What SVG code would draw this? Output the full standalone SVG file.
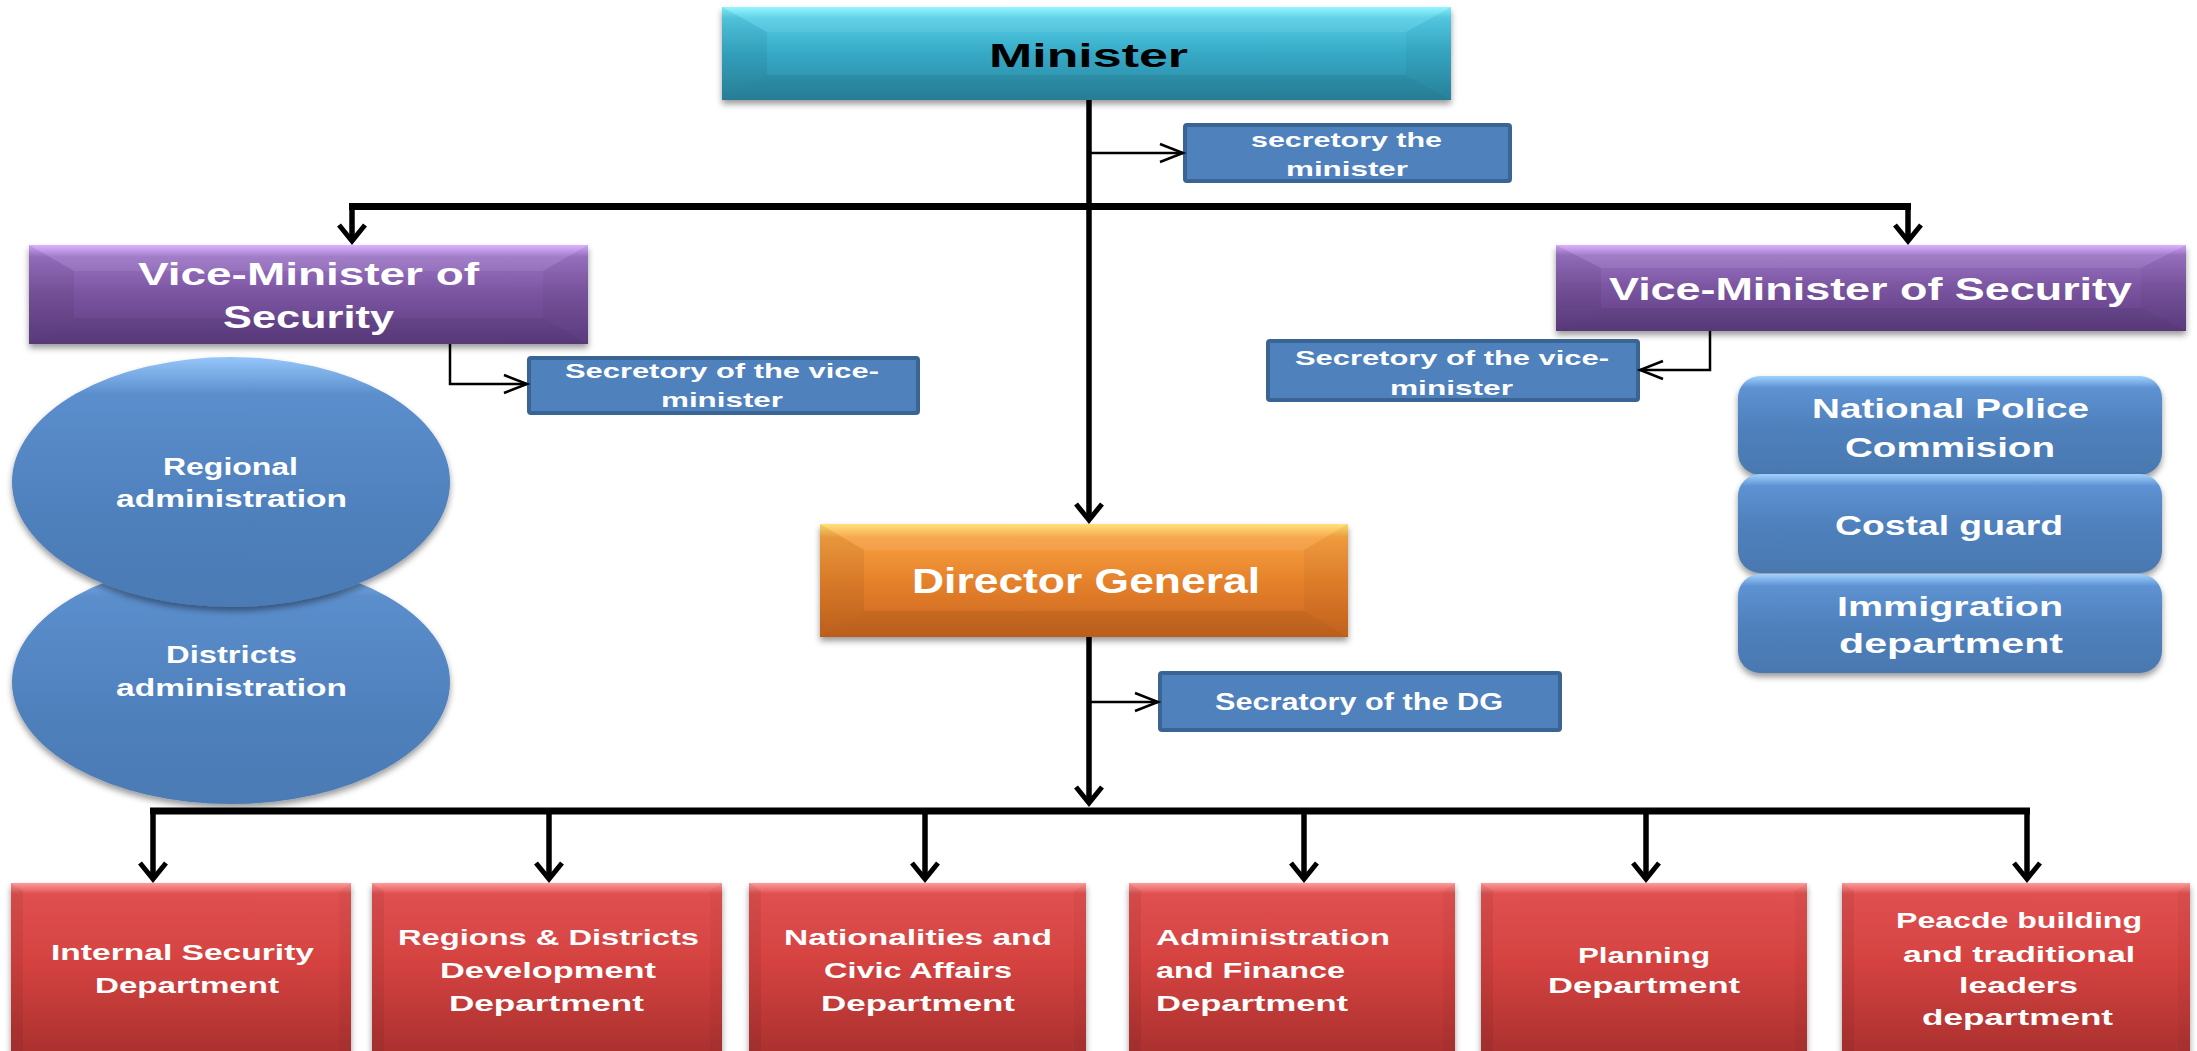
<svg xmlns="http://www.w3.org/2000/svg" width="2197" height="1051" viewBox="0 0 2197 1051">
<defs>
<style>
.t{font-family:"Liberation Sans",Arial,sans-serif;font-weight:bold;fill:#fff}
.blk{fill:#000}
.bt{fill:#fff;opacity:.08}
.bl{fill:#000;opacity:.06}
.br{fill:#000;opacity:.035}
.bb{fill:#000;opacity:.07}
.sec{fill:#4f81bd;stroke:#3a6494;stroke-width:4}
.thick{fill:none;stroke:#000;stroke-width:5.5}
.thin{fill:none;stroke:#000;stroke-width:2.5}
.bar{fill:none;stroke:#000;stroke-width:7}
</style>
<filter id="sh" x="-10%" y="-20%" width="120%" height="150%"><feDropShadow dx="0" dy="4" stdDeviation="3" flood-color="#000" flood-opacity="0.4"/></filter>
<linearGradient id="gTeal" x1="0" y1="0" x2="0" y2="1"><stop offset="0" stop-color="#8af6ff"/><stop offset=".12" stop-color="#55cde6"/><stop offset=".5" stop-color="#36a9c6"/><stop offset="1" stop-color="#2a869f"/></linearGradient>
<linearGradient id="gPur" x1="0" y1="0" x2="0" y2="1"><stop offset="0" stop-color="#d9acff"/><stop offset=".12" stop-color="#9a72c4"/><stop offset=".5" stop-color="#7a549f"/><stop offset="1" stop-color="#5e3d82"/></linearGradient>
<linearGradient id="gOr" x1="0" y1="0" x2="0" y2="1"><stop offset="0" stop-color="#ffe070"/><stop offset=".12" stop-color="#f7a040"/><stop offset=".5" stop-color="#e6822c"/><stop offset="1" stop-color="#c8651e"/></linearGradient>
<linearGradient id="gRed" x1="0" y1="0" x2="0" y2="1"><stop offset="0" stop-color="#ff9a9a"/><stop offset=".06" stop-color="#e05050"/><stop offset=".45" stop-color="#d44240"/><stop offset="1" stop-color="#a62f2d"/></linearGradient>
<linearGradient id="gBlue" x1="0" y1="0" x2="0" y2="1"><stop offset="0" stop-color="#a0d2ff"/><stop offset=".12" stop-color="#5e92d2"/><stop offset=".5" stop-color="#4f81bd"/><stop offset="1" stop-color="#4a78b0"/></linearGradient>
<linearGradient id="gEl" x1="0" y1="0" x2="0" y2="1"><stop offset="0" stop-color="#95c6fb"/><stop offset=".15" stop-color="#5b8ecc"/><stop offset=".6" stop-color="#4f81bd"/><stop offset="1" stop-color="#4b7ab4"/></linearGradient>
<marker id="ah" markerUnits="userSpaceOnUse" viewBox="-20 -16 24 32" refX="0" refY="0" markerWidth="24" markerHeight="32" orient="auto"><path d="M-16,-13 L0,0 L-16,13" fill="none" stroke="#000" stroke-width="5"/></marker>
<marker id="ahs" markerUnits="userSpaceOnUse" viewBox="-26 -12 30 24" refX="0" refY="0" markerWidth="30" markerHeight="24" orient="auto"><path d="M-23,-9 L0,0 L-23,9" fill="none" stroke="#000" stroke-width="2.5"/></marker>
</defs>
<rect width="2197" height="1051" fill="#fff"/>

<g id="minister">
<rect x="722" y="7" width="729" height="93" fill="url(#gTeal)" filter="url(#sh)"/>
<polygon class="bt" points="722,7 1451,7 1406,32 767,32"/>
<polygon class="bl" points="722,7 767,32 767,75 722,100"/>
<polygon class="br" points="1451,7 1451,100 1406,75 1406,32"/>
<polygon class="bb" points="722,100 767,75 1406,75 1451,100"/>
<text class="t blk" x="989" y="67" font-size="33" textLength="199" lengthAdjust="spacingAndGlyphs">Minister</text>
</g>

<g id="sec-minister">
<rect class="sec" x="1185" y="125" width="325" height="56" rx="2"/>
<text class="t" x="1251" y="147" font-size="21" textLength="191" lengthAdjust="spacingAndGlyphs">secretory the</text>
<text class="t" x="1286" y="176" font-size="21" textLength="122" lengthAdjust="spacingAndGlyphs">minister</text>
</g>

<g id="vice-left">
<rect x="29" y="245" width="559" height="99" fill="url(#gPur)" filter="url(#sh)"/>
<polygon class="bt" points="29,245 588,245 543,271 74,271"/>
<polygon class="bl" points="29,245 74,271 74,318 29,344"/>
<polygon class="br" points="588,245 588,344 543,318 543,271"/>
<polygon class="bb" points="29,344 74,318 543,318 588,344"/>
<text class="t" x="138" y="285" font-size="32" textLength="341" lengthAdjust="spacingAndGlyphs">Vice-Minister of</text>
<text class="t" x="223" y="328" font-size="32" textLength="171" lengthAdjust="spacingAndGlyphs">Security</text>
</g>

<g id="vice-right">
<rect x="1556" y="245" width="630" height="86" fill="url(#gPur)" filter="url(#sh)"/>
<polygon class="bt" points="1556,245 2186,245 2141,268 1601,268"/>
<polygon class="bl" points="1556,245 1601,268 1601,308 1556,331"/>
<polygon class="br" points="2186,245 2186,331 2141,308 2141,268"/>
<polygon class="bb" points="1556,331 1601,308 2141,308 2186,331"/>
<text class="t" x="1609" y="300" font-size="31" textLength="523" lengthAdjust="spacingAndGlyphs">Vice-Minister of Security</text>
</g>

<g id="sec-vice-left">
<rect class="sec" x="529" y="358" width="389" height="55" rx="2"/>
<text class="t" x="565" y="378" font-size="21" textLength="314" lengthAdjust="spacingAndGlyphs">Secretory of the vice-</text>
<text class="t" x="661" y="407" font-size="21" textLength="122" lengthAdjust="spacingAndGlyphs">minister</text>
</g>

<g id="sec-vice-right">
<rect class="sec" x="1268" y="341" width="370" height="59" rx="2"/>
<text class="t" x="1295" y="365" font-size="21" textLength="314" lengthAdjust="spacingAndGlyphs">Secretory of the vice-</text>
<text class="t" x="1390" y="395" font-size="21" textLength="123" lengthAdjust="spacingAndGlyphs">minister</text>
</g>

<g id="districts-admin">
<ellipse cx="231" cy="682" rx="219" ry="122" fill="url(#gEl)" filter="url(#sh)"/>
<text class="t" x="166" y="663" font-size="23" textLength="131" lengthAdjust="spacingAndGlyphs">Districts</text>
<text class="t" x="116" y="696" font-size="23" textLength="231" lengthAdjust="spacingAndGlyphs">administration</text>
</g>

<g id="regional-admin">
<ellipse cx="231" cy="482" rx="219" ry="125" fill="url(#gEl)" filter="url(#sh)"/>
<text class="t" x="163" y="475" font-size="23" textLength="135" lengthAdjust="spacingAndGlyphs">Regional</text>
<text class="t" x="116" y="507" font-size="23" textLength="231" lengthAdjust="spacingAndGlyphs">administration</text>
</g>

<g id="police-commission">
<rect x="1738" y="376" width="424" height="99" rx="22" fill="url(#gBlue)" filter="url(#sh)"/>
<text class="t" x="1812" y="418" font-size="28" textLength="277" lengthAdjust="spacingAndGlyphs">National Police</text>
<text class="t" x="1845" y="457" font-size="28" textLength="210" lengthAdjust="spacingAndGlyphs">Commision</text>
</g>
<g id="coastal-guard">
<rect x="1738" y="474" width="424" height="99" rx="22" fill="url(#gBlue)" filter="url(#sh)"/>
<text class="t" x="1835" y="535" font-size="28" textLength="228" lengthAdjust="spacingAndGlyphs">Costal guard</text>
</g>
<g id="immigration">
<rect x="1738" y="574" width="424" height="99" rx="22" fill="url(#gBlue)" filter="url(#sh)"/>
<text class="t" x="1837" y="616" font-size="28" textLength="226" lengthAdjust="spacingAndGlyphs">Immigration</text>
<text class="t" x="1839" y="653" font-size="28" textLength="224" lengthAdjust="spacingAndGlyphs">department</text>
</g>

<g id="director-general">
<rect x="820" y="524" width="528" height="113" fill="url(#gOr)" filter="url(#sh)"/>
<polygon class="bt" points="820,524 1348,524 1304,550 864,550"/>
<polygon class="bl" points="820,524 864,550 864,611 820,637"/>
<polygon class="br" points="1348,524 1348,637 1304,611 1304,550"/>
<polygon class="bb" points="820,637 864,611 1304,611 1348,637"/>
<text class="t" x="912" y="593" font-size="35" textLength="348" lengthAdjust="spacingAndGlyphs">Director General</text>
</g>

<g id="sec-dg">
<rect class="sec" x="1160" y="673" width="400" height="57" rx="2"/>
<text class="t" x="1215" y="710" font-size="23" textLength="288" lengthAdjust="spacingAndGlyphs">Secratory of the DG</text>
</g>

<g id="dept-internal">
<rect x="11" y="883" width="340" height="180" fill="url(#gRed)" filter="url(#sh)"/>
<polygon class="bl" points="11,883 23,891 23,1063 11,1063"/>
<polygon class="br" points="351,883 351,1063 339,1063 339,891"/>
<text class="t" x="51" y="960" font-size="22" textLength="263" lengthAdjust="spacingAndGlyphs">Internal Security</text>
<text class="t" x="95" y="993" font-size="22" textLength="184" lengthAdjust="spacingAndGlyphs">Department</text>
</g>
<g id="dept-regions">
<rect x="372" y="883" width="350" height="180" fill="url(#gRed)" filter="url(#sh)"/>
<polygon class="bl" points="372,883 384,891 384,1063 372,1063"/>
<polygon class="br" points="722,883 722,1063 710,1063 710,891"/>
<text class="t" x="398" y="945" font-size="22" textLength="301" lengthAdjust="spacingAndGlyphs">Regions &amp; Districts</text>
<text class="t" x="440" y="978" font-size="22" textLength="216" lengthAdjust="spacingAndGlyphs">Development</text>
<text class="t" x="449" y="1011" font-size="22" textLength="195" lengthAdjust="spacingAndGlyphs">Department</text>
</g>
<g id="dept-nationalities">
<rect x="749" y="883" width="337" height="180" fill="url(#gRed)" filter="url(#sh)"/>
<polygon class="bl" points="749,883 761,891 761,1063 749,1063"/>
<polygon class="br" points="1086,883 1086,1063 1074,1063 1074,891"/>
<text class="t" x="784" y="945" font-size="22" textLength="268" lengthAdjust="spacingAndGlyphs">Nationalities and</text>
<text class="t" x="824" y="978" font-size="22" textLength="188" lengthAdjust="spacingAndGlyphs">Civic Affairs</text>
<text class="t" x="821" y="1011" font-size="22" textLength="194" lengthAdjust="spacingAndGlyphs">Department</text>
</g>
<g id="dept-admin-finance">
<rect x="1129" y="883" width="326" height="180" fill="url(#gRed)" filter="url(#sh)"/>
<polygon class="bl" points="1129,883 1141,891 1141,1063 1129,1063"/>
<polygon class="br" points="1455,883 1455,1063 1443,1063 1443,891"/>
<text class="t" x="1156" y="945" font-size="22" textLength="234" lengthAdjust="spacingAndGlyphs">Administration</text>
<text class="t" x="1156" y="978" font-size="22" textLength="189" lengthAdjust="spacingAndGlyphs">and Finance</text>
<text class="t" x="1156" y="1011" font-size="22" textLength="192" lengthAdjust="spacingAndGlyphs">Department</text>
</g>
<g id="dept-planning">
<rect x="1481" y="883" width="326" height="180" fill="url(#gRed)" filter="url(#sh)"/>
<polygon class="bl" points="1481,883 1493,891 1493,1063 1481,1063"/>
<polygon class="br" points="1807,883 1807,1063 1795,1063 1795,891"/>
<text class="t" x="1578" y="963" font-size="22" textLength="132" lengthAdjust="spacingAndGlyphs">Planning</text>
<text class="t" x="1548" y="993" font-size="22" textLength="192" lengthAdjust="spacingAndGlyphs">Department</text>
</g>
<g id="dept-peace">
<rect x="1842" y="883" width="348" height="180" fill="url(#gRed)" filter="url(#sh)"/>
<polygon class="bl" points="1842,883 1854,891 1854,1063 1842,1063"/>
<polygon class="br" points="2190,883 2190,1063 2178,1063 2178,891"/>
<text class="t" x="1896" y="928" font-size="22" textLength="246" lengthAdjust="spacingAndGlyphs">Peacde building</text>
<text class="t" x="1903" y="962" font-size="22" textLength="232" lengthAdjust="spacingAndGlyphs">and traditional</text>
<text class="t" x="1959" y="993" font-size="22" textLength="119" lengthAdjust="spacingAndGlyphs">leaders</text>
<text class="t" x="1922" y="1025" font-size="22" textLength="191" lengthAdjust="spacingAndGlyphs">department</text>
</g>

<g id="connectors">
<path class="thick" d="M1089,100 V520" marker-end="url(#ah)"/>
<path class="bar" d="M349,206.5 H1911"/>
<path class="thick" d="M352,204 V241" marker-end="url(#ah)"/>
<path class="thick" d="M1908,204 V241" marker-end="url(#ah)"/>
<path class="thin" d="M1089,153 H1183" marker-end="url(#ahs)"/>
<path class="thin" d="M450,344 V384 H527" marker-end="url(#ahs)"/>
<path class="thin" d="M1710,331 V370 H1640" marker-end="url(#ahs)"/>
<path class="thick" d="M1089,637 V803" marker-end="url(#ah)"/>
<path class="thin" d="M1089,702 H1158" marker-end="url(#ahs)"/>
<path class="bar" d="M150,811 H2030"/>
<path class="thick" d="M153,808 V879" marker-end="url(#ah)"/>
<path class="thick" d="M549,808 V879" marker-end="url(#ah)"/>
<path class="thick" d="M925,808 V879" marker-end="url(#ah)"/>
<path class="thick" d="M1304,808 V879" marker-end="url(#ah)"/>
<path class="thick" d="M1646,808 V879" marker-end="url(#ah)"/>
<path class="thick" d="M2027,808 V879" marker-end="url(#ah)"/>
</g>
</svg>
